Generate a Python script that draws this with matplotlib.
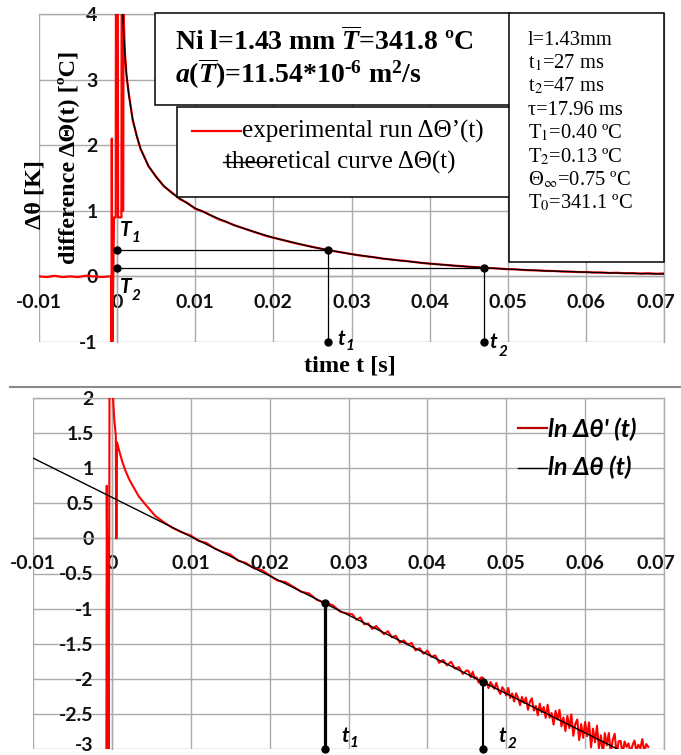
import numpy as np
import matplotlib
matplotlib.use('Agg')
import matplotlib.pyplot as plt
from matplotlib.patches import Rectangle
from matplotlib.lines import Line2D
from matplotlib.ticker import FixedLocator, FixedFormatter
from matplotlib.font_manager import FontProperties
from matplotlib.transforms import ScaledTranslation

plt.rcParams['axes.unicode_minus'] = False
plt.rcParams['mathtext.fontset'] = 'custom'
plt.rcParams['mathtext.rm'] = 'Liberation Serif:bold'
plt.rcParams['mathtext.it'] = 'Liberation Serif:italic:bold'
plt.rcParams['mathtext.bf'] = 'Liberation Serif:bold'

# ---------------- data ----------------
x_ticks = [-0.01, 0.0, 0.01, 0.02, 0.03, 0.04, 0.05, 0.06, 0.07]
x_tick_labels = ['-0.01', '0', '0.01', '0.02', '0.03', '0.04', '0.05', '0.06', '0.07']
top_y_ticks = [-1, 0, 1, 2, 3, 4]
top_y_labels = ['-1', '0', '1', '2', '3', '4']
bot_y_ticks = [-3, -2.5, -2, -1.5, -1, -0.5, 0, 0.5, 1, 1.5, 2]
bot_y_labels = ['-3', '-2.5', '-2', '-1.5', '-1', '-0.5', '0', '0.5', '1', '1.5', '2']

t1, t2 = 0.027, 0.047
T1, T2 = 0.40, 0.13
ln_T1, ln_T2 = -0.916, -2.04

params_lines = ['l=1.43mm', 't$_1$=27 ms', 't$_2$=47 ms', 'τ=17.96 ms',
                'T$_1$=0.40 ºC', 'T$_2$=0.13 ºC', 'Θ$_\\infty$=0.75 ºC', 'T$_0$=341.1 ºC']

# theoretical curve (top)
t_theory_top = [0.0007, 0.0008, 0.0010, 0.0012, 0.0015, 0.0020, 0.0025, 0.0030, 0.0035,
                0.0040, 0.0050, 0.0060, 0.0070, 0.0080, 0.0090, 0.0100, 0.0120, 0.0150,
                0.0175, 0.0200, 0.0250, 0.0300, 0.0350, 0.0400, 0.0450, 0.0500, 0.0550,
                0.0600, 0.0650, 0.0700]
dT_theory_top = [4.04, 3.78, 3.38, 3.08, 2.76, 2.39, 2.14, 1.95, 1.81,
                 1.69, 1.51, 1.38, 1.27, 1.19, 1.11, 1.04, 0.93, 0.78,
                 0.68, 0.59, 0.447, 0.339, 0.256, 0.194, 0.147, 0.111, 0.084,
                 0.064, 0.048, 0.037]

# experimental run (top)
t_exp_top_pre = [-0.0100, -0.0090, -0.0080, -0.0070, -0.0060, -0.0050, -0.0040,
                 -0.0030, -0.0020, -0.0010, -0.00075]
dT_exp_top_pre = [0.00, -0.01, 0.01, -0.01, 0.00, -0.01, 0.01, 0.00, -0.01, 0.00, -0.01]
t_exp_top_spike = [-0.00072, -0.00068, -0.00062, -0.00040, -0.00018, -0.00015, 0.00008,
                   0.00012, 0.00055, 0.00058, 0.00072, 0.00076, 0.00082]
dT_exp_top_spike = [-1.2, 2.1, -1.2, 0.9, 0.9, 4.6, 4.6, 0.9, 0.9, 4.6, 4.6, 1.0, 4.0]
t_exp_top_early = [0.0010, 0.0012, 0.0015, 0.0020, 0.0025, 0.0030, 0.0035, 0.0040]
dT_exp_top_early = [3.40, 3.06, 2.78, 2.38, 2.15, 1.94, 1.82, 1.68]
dT_exp_top_tail = [1.52, 1.37, 1.28, 1.18, 1.12, 1.03, 0.99, 0.93, 0.87, 0.83,
                   0.78, 0.74, 0.70, 0.66, 0.62, 0.59, 0.56, 0.53, 0.50, 0.475,
                   0.45, 0.425, 0.40, 0.38, 0.36, 0.34, 0.32, 0.305, 0.29, 0.27,
                   0.26, 0.245, 0.235, 0.22, 0.205, 0.195, 0.185, 0.175, 0.165, 0.157,
                   0.148, 0.14, 0.13, 0.125, 0.118, 0.11, 0.108, 0.098, 0.094, 0.09,
                   0.083, 0.082, 0.074, 0.073, 0.066, 0.066, 0.058, 0.06, 0.052, 0.055,
                   0.047, 0.05, 0.042, 0.048, 0.04, 0.045]  # t = 0.005 ... 0.070

# ln plot (bottom)
t_line_bot = [-0.0100, 0.0641]
ln_line_bot = [1.145, -3.00]

t_exp_bot_spike = [-0.00070, -0.00065, -0.00060, -0.00055, -0.00050, -0.00045, -0.00040,
                   -0.00030, 0.00010, 0.00030, 0.00050, 0.00055, 0.00060, 0.00065,
                   0.00090, 0.00130, 0.00170, 0.00220, 0.00280, 0.00340, 0.00450,
                   0.00550, 0.00660, 0.00770, 0.00880]
ln_exp_bot_spike = [-3.3, 0.75, -0.15, -3.3, -3.3, 0.0, -3.3,
                    2.1, 2.1, 1.70, 1.46, 0.0, 0.0, 1.37,
                    1.26, 1.10, 0.97, 0.84, 0.72, 0.60, 0.45,
                    0.32, 0.23, 0.15, 0.09]
ln_exp_bot_a = [0.041, -0.035, -0.065, -0.141, -0.192, -0.228, -0.318, -0.349, -0.425,
                -0.450, -0.526, -0.602, -0.622, -0.688, -0.759, -0.785, -0.875, -0.916,
                -0.952, -1.047, -1.073]  # t = 0.010 ... 0.030
ln_exp_bot_b = [-1.081, -1.159, -1.126, -1.224, -1.212, -1.290, -1.248, -1.306, -1.364,
                -1.322, -1.409, -1.387, -1.485, -1.453, -1.511, -1.489, -1.596, -1.564,
                -1.642, -1.600, -1.688, -1.666, -1.773, -1.731, -1.809, -1.757, -1.855,
                -1.833, -1.931, -1.879]  # t = 0.0305 ... 0.045
ln_exp_bot_c = [-1.893, -1.977, -1.901, -1.995, -1.979, -2.053, -1.986, -1.980, -2.084, -2.038,
                -2.132, -2.046, -2.090, -2.144, -2.058, -2.162, -2.216, -2.120, -2.164, -2.238,
                -2.131, -2.275, -2.209, -2.323, -2.207, -2.271, -2.375, -2.259, -2.343, -2.267,
                -2.441, -2.325, -2.279, -2.452, -2.386, -2.520, -2.354, -2.478, -2.402, -2.556,
                -2.370, -2.554, -2.488, -2.652, -2.456, -2.580, -2.443, -2.677, -2.551, -2.745,
                -2.529, -2.703, -2.507, -2.811, -2.645, -2.579, -2.873, -2.647, -2.841, -2.615,
                -2.818, -2.622, -2.976, -2.710, -2.904, -2.668, -2.992, -2.806, -3.070, -2.774,
                -2.948, -2.772, -3.056, -2.869, -2.783, -3.077, -2.891, -2.885, -3.079, -2.893,
                -2.97, -2.92, -3.05, -2.95, -2.88, -3.02, -2.94, -2.99, -2.86, -3.04,
                -2.93, -2.97]  # t = 0.04525 ... 0.068

# sampling grids
t_exp_top = np.concatenate([t_exp_top_pre, t_exp_top_spike, t_exp_top_early,
                            np.linspace(0.005, 0.070, len(dT_exp_top_tail))])
dT_exp_top = np.concatenate([dT_exp_top_pre, dT_exp_top_spike, dT_exp_top_early,
                             dT_exp_top_tail])
t_exp_bot = np.concatenate([t_exp_bot_spike,
                            np.linspace(0.010, 0.030, len(ln_exp_bot_a)),
                            np.linspace(0.0305, 0.045, len(ln_exp_bot_b)),
                            np.linspace(0.04525, 0.068, len(ln_exp_bot_c))])
ln_exp_bot = np.concatenate([ln_exp_bot_spike, ln_exp_bot_a, ln_exp_bot_b, ln_exp_bot_c])

# ---------------- figure ----------------
W, H = 681, 755
fig = plt.figure(figsize=(W / 100, H / 100), dpi=100)
fig.patch.set_facecolor('white')


def fx(px):
    return px / W


def fy(py):
    return 1 - py / H


RED = '#ff0000'
GRID = '#ababab'
tick_fp = FontProperties(family=['Lato', 'DejaVu Sans'], weight='bold', size=14)
lab_fp = FontProperties(family=['Lato', 'DejaVu Sans'], weight='bold', style='italic', size=15)
sub_fp = FontProperties(family=['Lato', 'DejaVu Sans'], weight='bold', style='italic', size=11)

ax1 = fig.add_axes([fx(39), fy(342), (664 - 39) / W, (342 - 14) / H])
ax2 = fig.add_axes([fx(33), fy(749), (664 - 33) / W, (749 - 398) / H])


def shift(lab, dx_px, dy_px):
    lab.set_transform(lab.get_transform() +
                      ScaledTranslation(dx_px / 100, dy_px / 100, fig.dpi_scale_trans))


def style(ax, yticks, ylabels, ylim, xpad, ypad):
    ax.set_xlim(-0.01, 0.07)
    ax.set_ylim(*ylim)
    ax.xaxis.set_major_locator(FixedLocator(x_ticks))
    ax.xaxis.set_major_formatter(FixedFormatter(x_tick_labels))
    ax.yaxis.set_major_locator(FixedLocator(yticks))
    ax.yaxis.set_major_formatter(FixedFormatter(ylabels))
    ax.grid(True, color=GRID, lw=1.0)
    for s in ax.spines.values():
        s.set_color(GRID)
        s.set_linewidth(1.0)
    ax.spines['left'].set_position(('data', 0))
    ax.spines['bottom'].set_position(('data', 0))
    ax.tick_params(length=0)
    ax.tick_params(axis='x', pad=xpad)
    ax.tick_params(axis='y', pad=ypad)
    for lab in ax.get_xticklabels() + ax.get_yticklabels():
        lab.set_fontproperties(tick_fp)
        lab.set_color('#111111')
    # last x label sits a little left of its tick (at the chart edge)
    shift(ax.get_xticklabels()[-1], -8, 0)


style(ax1, top_y_ticks, top_y_labels, (-1, 4), 13, 14)
style(ax2, bot_y_ticks, bot_y_labels, (-3, 2), 12, 13)
shift(ax2.get_yticklabels()[0], 0, 5)   # keep "-3" inside the picture

# top panel data
ax1.plot(t_exp_top, dT_exp_top, color=RED, lw=1.6, zorder=3)
ax1.plot(t_theory_top, dT_theory_top, color='black', lw=1.0, zorder=4)
for tt, TT in ((t1, T1), (t2, T2)):
    ax1.plot([0, tt, tt], [TT, TT, -1], color='black', lw=0.9, zorder=5, clip_on=False)
    ax1.plot([0, tt, tt], [TT, TT, -1], 'o', ms=5, color='black', zorder=6, clip_on=False)

# bottom panel data
ax2.plot(t_exp_bot, ln_exp_bot, color=RED, lw=1.5, zorder=3)
ax2.plot(t_line_bot, ln_line_bot, color='black', lw=1.0, zorder=4)
ax2.plot([t1, t1], [ln_T1, -3], color='black', lw=2.3, zorder=5, clip_on=False)
ax2.plot([t2, t2], [ln_T2, -3], color='black', lw=1.5, zorder=5, clip_on=False)
ax2.plot([t1, t1, t2, t2], [ln_T1, -3, ln_T2, -3], 'o', ms=5, color='black', zorder=6,
         clip_on=False)

# ---------- annotations (figure pixel coords) ----------
def ftext(px, py, s, **kw):
    return fig.text(fx(px), fy(py), s, **kw)


def sublabel(px, py, base, sub, dx=11, dy=6):
    ftext(px, py, base, fontproperties=lab_fp, va='baseline', ha='left', zorder=12)
    ftext(px + dx, py + dy, sub, fontproperties=sub_fp, va='baseline', ha='left', zorder=12)


sublabel(120, 236, 'T', '1', dx=12, dy=6)
sublabel(120, 293, 'T', '2', dx=12, dy=7)
sublabel(337, 345, 't', '1', dx=9, dy=5)
sublabel(489, 348, 't', '2', dx=10, dy=8)
sublabel(341, 742, 't', '1', dx=9, dy=5)
sublabel(498, 742, 't', '2', dx=10, dy=6)

# axis labels
ftext(350, 366, 'time t [s]', family='Liberation Serif', weight='bold', size=17.5,
      ha='center', va='center')
ftext(35, 195, 'Δθ [K]', family='Liberation Serif', weight='bold', size=17.5,
      ha='center', va='center', rotation=90)
ftext(68, 157, 'difference ΔΘ(t) [ºC]', family='Liberation Serif', weight='bold', size=17.5,
      ha='center', va='center', rotation=90)

# boxes
def fbox(x0, y0, x1, y1):
    fig.add_artist(Rectangle((fx(x0), fy(y1)), (x1 - x0) / W, (y1 - y0) / H,
                             transform=fig.transFigure, facecolor='white',
                             edgecolor='black', lw=1.1, zorder=10))


fbox(155, 13, 510, 105)
fbox(177, 107, 510, 197)
fbox(509, 13, 664, 262)

title_fp = dict(family='Liberation Serif', weight='bold', size=20, math_fontfamily='custom')
ftext(175, 50, r'Ni l=1.43 mm $\overline{T}$=341.8 ºC', va='baseline', ha='left',
      zorder=12, **title_fp)
ftext(175, 83, '$a$($\\overline{T}$)=11.54*10$^{\u2010 6}$ m$^{2}$/s', va='baseline', ha='left',
      zorder=12, **title_fp)

# legend (top)
fig.add_artist(Line2D([fx(192), fx(241)], [fy(131), fy(131)], color=RED, lw=1.6, zorder=13))
ftext(242, 138, 'experimental run ΔΘ’(t)', family='Liberation Serif', size=18,
      va='baseline', ha='left', zorder=12)
ftext(225, 169, 'theoretical curve ΔΘ(t)', family='Liberation Serif', size=18,
      va='baseline', ha='left', zorder=12)
fig.add_artist(Line2D([fx(223), fx(272)], [fy(162), fy(162)], color='black', lw=1.0, zorder=13))

# parameters box
for i, s in enumerate(params_lines):
    ftext(528, 45 + 23.4 * i, s, family='Liberation Serif', size=14.8, math_fontfamily='stix',
          va='baseline', ha='left', zorder=12)

# separator line
fig.add_artist(Line2D([fx(10), 1.0], [fy(387), fy(387)], color='#8a8a8a', lw=1.5))

# bottom legend
leg_fp = FontProperties(family=['Lato', 'DejaVu Sans'], weight='bold', style='italic', size=18)
fig.add_artist(Line2D([fx(518), fx(547)], [fy(428), fy(428)], color='#c00000', lw=1.6, zorder=13))
fig.add_artist(Line2D([fx(518), fx(547)], [fy(468), fy(468)], color='black', lw=1.0, zorder=13))
ftext(548, 429, "ln Δθ' (t)", fontproperties=leg_fp, va='center', ha='left', zorder=12)
ftext(548, 467, 'ln Δθ (t)', fontproperties=leg_fp, va='center', ha='left', zorder=12)

fig.savefig('out.png', dpi=100)
